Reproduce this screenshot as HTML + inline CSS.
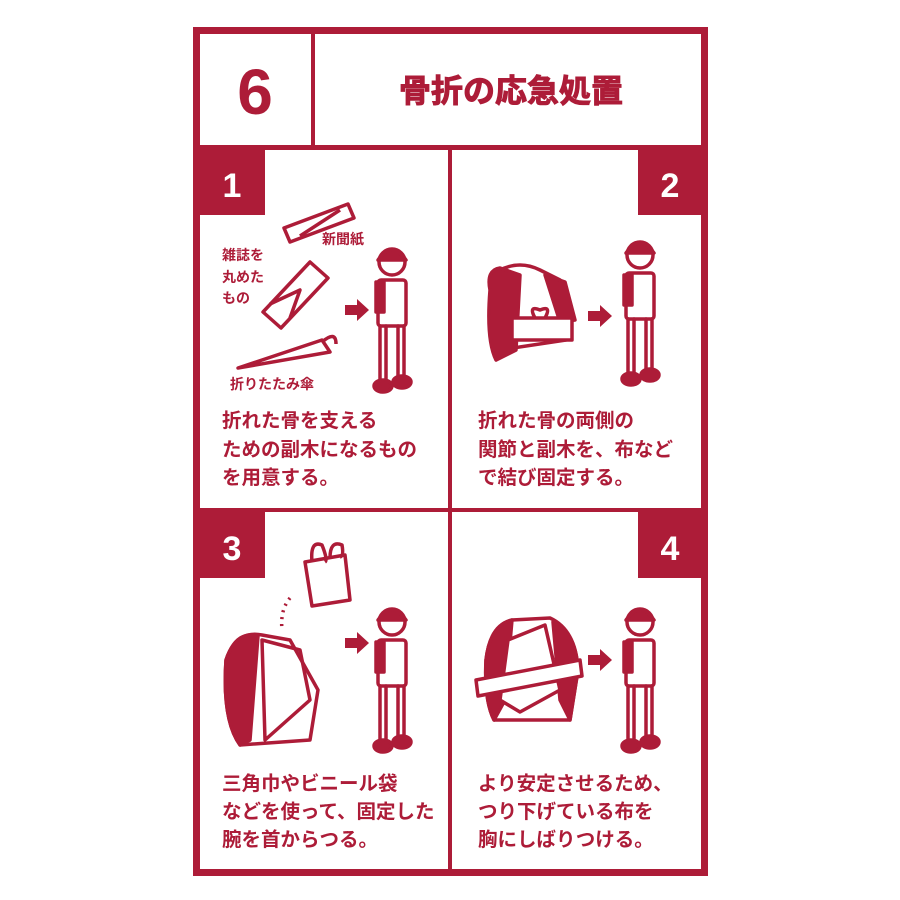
<!DOCTYPE html>
<html><head><meta charset="utf-8"><style>
html,body{margin:0;padding:0;background:#fff;}
svg{display:block}
text{font-family:"Liberation Sans","Noto Sans CJK JP",sans-serif;font-weight:bold;fill:#ad1c38}
</style></head><body>
<svg width="900" height="900" viewBox="0 0 900 900" xmlns="http://www.w3.org/2000/svg">
<defs>
<g id="person" fill="none" stroke="#ad1c38" stroke-width="3.5" stroke-linejoin="round" stroke-linecap="round">
  <circle cx="0" cy="0" r="13" fill="#fff"/>
  <path d="M-14,-2 Q0,-22 14,-2 Z" fill="#ad1c38"/>
  <rect x="-14" y="18" width="28" height="46" rx="3" fill="#fff"/>
  <rect x="-16" y="20" width="8" height="30" fill="#ad1c38"/>
  <line x1="-6" y1="64" x2="-6" y2="118"/>
  <line x1="6" y1="64" x2="6" y2="118"/>
  <line x1="-12" y1="64" x2="-12" y2="118"/>
  <line x1="12" y1="64" x2="12" y2="118"/>
  <ellipse cx="-9" cy="124" rx="9" ry="6" fill="#ad1c38"/>
  <ellipse cx="10" cy="120" rx="9" ry="6" fill="#ad1c38"/>
</g>
<path id="arrow" d="M0,-5 H12 V-11 L24,0 L12,11 V5 H0 Z" fill="#ad1c38"/>
</defs>
<rect x="196.5" y="30.5" width="508" height="842" fill="none" stroke="#ad1c38" stroke-width="7"/>
<rect x="200" y="145" width="501" height="5" fill="#ad1c38"/>
<rect x="311" y="34" width="4" height="112" fill="#ad1c38"/>
<rect x="448" y="148" width="4" height="725" fill="#ad1c38"/>
<rect x="200" y="508" width="501" height="4" fill="#ad1c38"/>
<rect x="200" y="148" width="65" height="67" fill="#ad1c38"/>
<rect x="638" y="148" width="66" height="67" fill="#ad1c38"/>
<rect x="200" y="511" width="65" height="67" fill="#ad1c38"/>
<rect x="638" y="511" width="66" height="67" fill="#ad1c38"/>
<text x="232" y="197" font-size="34" text-anchor="middle" style="fill:#fff">1</text>
<text x="670" y="197" font-size="34" text-anchor="middle" style="fill:#fff">2</text>
<text x="232" y="560" font-size="34" text-anchor="middle" style="fill:#fff">3</text>
<text x="670" y="560" font-size="34" text-anchor="middle" style="fill:#fff">4</text>
<text x="255" y="114" font-size="64" text-anchor="middle">6</text>
<text x="511" y="102" font-size="32" text-anchor="middle" stroke="#ad1c38" stroke-width="1">骨折の応急処置</text>
<g fill="none" stroke="#ad1c38" stroke-width="3.5" stroke-linejoin="round">
  <path d="M284,228 L348,204 L354,218 L290,242 Z"/>
  <path d="M300,236 L340,210" />
  <path d="M263,312 L310,262 L328,278 L281,328 Z"/>
  <path d="M270,304 L300,290 L290,318"/>
  <path d="M238,368 L322,340 L330,352 Z"/>
  <path d="M322,342 Q336,330 336,344"/>
</g>
<text x="322" y="244" font-size="14">新聞紙</text>
<text x="222" y="260" font-size="14">雑誌を</text>
<text x="222" y="282" font-size="14">丸めた</text>
<text x="222" y="303" font-size="14">もの</text>
<text x="230" y="389" font-size="14">折りたたみ傘</text>
<use href="#arrow" x="345" y="310"/>
<use href="#person" x="392" y="262"/>
<text x="222" y="427" font-size="19.5">折れた骨を支える</text>
<text x="222" y="456" font-size="19.5">ための副木になるもの</text>
<text x="222" y="484" font-size="19.5">を用意する。</text>
<g fill="none" stroke="#ad1c38" stroke-width="3.5" stroke-linejoin="round">
  <path d="M500,270 Q520,260 540,270 L560,280 L566,340 L500,350 Z" fill="#fff"/>
  <path d="M490,290 Q486,270 500,268 L520,275 L516,350 L496,360 Q486,340 490,290 Z" fill="#ad1c38"/>
  <path d="M545,275 L565,282 L575,320 L560,322 Z" fill="#ad1c38"/>
  <rect x="512" y="318" width="60" height="22" fill="#fff"/>
  <path d="M535,318 Q528,305 540,310 Q552,305 545,318"/>
</g>
<use href="#arrow" x="588" y="316"/>
<use href="#person" x="640" y="255"/>
<text x="478" y="427" font-size="19.5">折れた骨の両側の</text>
<text x="478" y="456" font-size="19.5">関節と副木を、布など</text>
<text x="478" y="484" font-size="19.5">で結び固定する。</text>
<g fill="none" stroke="#ad1c38" stroke-width="3.5" stroke-linejoin="round">
  <path d="M305,562 L345,555 L350,600 L312,606 Z"/>
  <path d="M312,562 Q310,540 322,545 Q328,560 325,562 M330,558 Q330,540 342,545 Q344,556 340,557"/>
  <path d="M226,660 Q236,630 262,635 L290,640 L318,690 L310,740 L240,745 Q222,720 226,660 Z" fill="#fff"/>
  <path d="M226,660 Q236,630 258,636 L250,740 L240,745 Q222,720 226,660 Z" fill="#ad1c38"/>
  <path d="M262,640 L300,650 L310,700 L265,740 Z"/>
  <path d="M290,598 Q280,610 282,630" stroke-dasharray="2 5"/>
</g>
<use href="#arrow" x="345" y="643"/>
<use href="#person" x="392" y="622"/>
<text x="222" y="790" font-size="19.5">三角巾やビニール袋</text>
<text x="222" y="818" font-size="19.5">などを使って、固定した</text>
<text x="222" y="846" font-size="19.5">腕を首からつる。</text>
<g fill="none" stroke="#ad1c38" stroke-width="3.5" stroke-linejoin="round">
  <path d="M486,660 Q490,625 512,620 L550,618 Q576,630 578,670 L570,720 L494,720 Q484,700 486,660 Z" fill="#fff"/>
  <path d="M486,660 Q490,625 512,620 L505,700 L494,720 Q484,700 486,660 Z" fill="#ad1c38"/>
  <path d="M553,622 Q576,632 578,670 L570,720 L560,700 Z" fill="#ad1c38"/>
  <path d="M508,640 L545,625 L560,690 L520,712 L500,700 Z" fill="#fff"/>
  <path d="M476,680 L580,660 L582,676 L478,696 Z" fill="#fff"/>
</g>
<use href="#arrow" x="588" y="660"/>
<use href="#person" x="640" y="622"/>
<text x="478" y="790" font-size="19.5">より安定させるため、</text>
<text x="478" y="818" font-size="19.5">つり下げている布を</text>
<text x="478" y="846" font-size="19.5">胸にしばりつける。</text>
</svg>
</body></html>
